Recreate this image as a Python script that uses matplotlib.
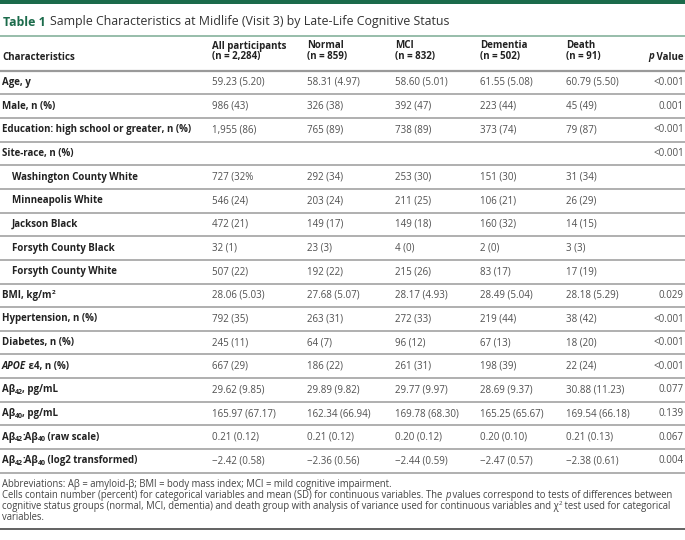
import re
import matplotlib
matplotlib.use("Agg")
import matplotlib.pyplot as plt

# ---- table content ----
title_tag = "Table 1"
title_text = "Sample Characteristics at Midlife (Visit 3) by Late-Life Cognitive Status"

groups = ["All participants", "Normal", "MCI", "Dementia", "Death"]
group_ns = ["(n = 2,284)", "(n = 859)", "(n = 832)", "(n = 502)", "(n = 91)"]

# *...* = italic, _{..} = subscript, ^{..} = superscript
row_labels = [
    "Age, y",
    "Male, n (%)",
    "Education: high school or greater, n (%)",
    "Site-race, n (%)",
    "Washington County White",
    "Minneapolis White",
    "Jackson Black",
    "Forsyth County Black",
    "Forsyth County White",
    "BMI, kg/m^{2}",
    "Hypertension, n (%)",
    "Diabetes, n (%)",
    "*APOE* ε4, n (%)",
    "Aβ_{42}, pg/mL",
    "Aβ_{40}, pg/mL",
    "Aβ_{42}:Aβ_{40} (raw scale)",
    "Aβ_{42}:Aβ_{40} (log2 transformed)",
]
sub_rows = {"Washington County White", "Minneapolis White", "Jackson Black",
            "Forsyth County Black", "Forsyth County White"}

all_part = ["59.23 (5.20)", "986 (43)", "1,955 (86)", "", "727 (32%", "546 (24)",
            "472 (21)", "32 (1)", "507 (22)", "28.06 (5.03)", "792 (35)", "245 (11)",
            "667 (29)", "29.62 (9.85)", "165.97 (67.17)", "0.21 (0.12)", "−2.42 (0.58)"]
normal = ["58.31 (4.97)", "326 (38)", "765 (89)", "", "292 (34)", "203 (24)",
          "149 (17)", "23 (3)", "192 (22)", "27.68 (5.07)", "263 (31)", "64 (7)",
          "186 (22)", "29.89 (9.82)", "162.34 (66.94)", "0.21 (0.12)", "−2.36 (0.56)"]
mci = ["58.60 (5.01)", "392 (47)", "738 (89)", "", "253 (30)", "211 (25)",
       "149 (18)", "4 (0)", "215 (26)", "28.17 (4.93)", "272 (33)", "96 (12)",
       "261 (31)", "29.77 (9.97)", "169.78 (68.30)", "0.20 (0.12)", "−2.44 (0.59)"]
dementia = ["61.55 (5.08)", "223 (44)", "373 (74)", "", "151 (30)", "106 (21)",
            "160 (32)", "2 (0)", "83 (17)", "28.49 (5.04)", "219 (44)", "67 (13)",
            "198 (39)", "28.69 (9.37)", "165.25 (65.67)", "0.20 (0.10)", "−2.47 (0.57)"]
death = ["60.79 (5.50)", "45 (49)", "79 (87)", "", "31 (34)", "26 (29)",
         "14 (15)", "3 (3)", "17 (19)", "28.18 (5.29)", "38 (42)", "18 (20)",
         "22 (24)", "30.88 (11.23)", "169.54 (66.18)", "0.21 (0.13)", "−2.38 (0.61)"]
p_values = ["<0.001", "0.001", "<0.001", "<0.001", "", "", "", "", "", "0.029",
            "<0.001", "<0.001", "<0.001", "0.077", "0.139", "0.067", "0.004"]

footnotes = [
    "Abbreviations: Aβ = amyloid-β; BMI = body mass index; MCI = mild cognitive impairment.",
    "Cells contain number (percent) for categorical variables and mean (SD) for continuous variables. The *p* values correspond to tests of differences between",
    "cognitive status groups (normal, MCI, dementia) and death group with analysis of variance used for continuous variables and χ^{2} test used for categorical",
    "variables.",
]

# ---- style ----
FONT = "Open Sans"
GREEN = "#1b6b4b"
TXT = "#222222"
VAL = "#505050"
RULE = "#9a9a9a"
FS = 7.0

fig = plt.figure(figsize=(6.85, 5.4), dpi=100)
ax = fig.add_axes([0, 0, 1, 1])
ax.set_xlim(0, 685)
ax.set_ylim(540, 0)
ax.axis("off")
fig.canvas.draw()
renderer = fig.canvas.get_renderer()


def rich(x, y, s, size=FS, weight="normal", color=TXT, ha="left"):
    # split markup into pieces and draw them one after another
    parts = re.split(r"(\*[^*]+\*|_\{[^}]+\}|\^\{[^}]+\})", s)
    pieces = []
    for p in parts:
        if not p:
            continue
        if p.startswith("*"):
            pieces.append((p[1:-1], "italic", size, 0, 0))
        elif p.startswith("_{"):
            pieces.append((p[2:-1], "normal", size * 0.72, size * 0.35, -1))
        elif p.startswith("^{"):
            pieces.append((p[2:-1], "normal", size * 0.65, -size * 0.45, -0.5))
        else:
            pieces.append((p, "normal", size, 0, 0))
    cx = x
    for txt, style, sz, dy, adj in pieces:
        t = ax.text(cx, y + dy, txt, fontsize=sz, fontweight=weight, style=style,
                    color=color, family=FONT, va="center", ha="left")
        bb = t.get_window_extent(renderer)
        cx += bb.width * 685 / fig.bbox.width + adj
    return cx


# top band and title
ax.axhspan(0, 4, color=GREEN, lw=0)
end = rich(3, 22, title_tag, size=8.9, weight="bold", color=GREEN)
rich(end + 4, 22, title_text, size=8.9, color="#333333")
ax.axhline(36, color="#8fb8a4", lw=1.3)

# header
col_x = [212, 307, 395, 480, 566]
p_x = 684
for x, g, n in zip(col_x, groups, group_ns):
    ax.text(x, 46, g, fontsize=FS, fontweight="bold", color=TXT, family=FONT, va="center")
    ax.text(x, 57, n, fontsize=FS, fontweight="bold", color=TXT, family=FONT, va="center")
ax.text(2, 57, "Characteristics", fontsize=FS, fontweight="bold", color=TXT, family=FONT, va="center")
ax.text(p_x, 57, " Value", fontsize=FS, fontweight="bold", color=TXT, family=FONT,
        va="center", ha="right")
tv = ax.texts[-1].get_window_extent(renderer).width * 685 / fig.bbox.width
ax.text(p_x - tv, 57, "p", fontsize=FS, fontweight="bold", style="italic", color=TXT,
        family=FONT, va="center", ha="right")
ax.axhline(70.5, color=RULE, lw=1.6)

# body rows
y0, step = 82.5, 23.65
columns = [all_part, normal, mci, dementia, death]
for i, lab in enumerate(row_labels):
    y = y0 + i * step
    indent = 12 if lab in sub_rows else 2
    rich(indent, y, lab, weight="bold")
    for x, col in zip(col_x, columns):
        if col[i]:
            ax.text(x, y, col[i], fontsize=FS, color=VAL, family=FONT, va="center")
    if p_values[i]:
        ax.text(p_x, y, p_values[i], fontsize=FS, color=VAL, family=FONT,
                va="center", ha="right")
    ax.axhline(y + step / 2, color=RULE, lw=1.1)

# footnotes
fy = 484
for line in footnotes:
    rich(2, fy, line, size=6.88, color="#444444")
    fy += 11.2
ax.axhline(529, color="#555555", lw=1.3)

fig.savefig("out.png", dpi=100)
